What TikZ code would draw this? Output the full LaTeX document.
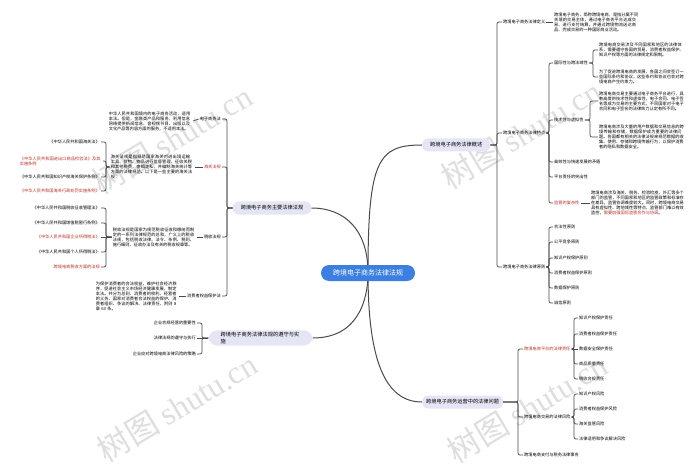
\documentclass[tikz,border=0pt]{standalone}
\usepackage{fontspec}
\setmainfont{Noto Sans CJK SC}
\newfontfamily\wmlat{Liberation Serif}
\XeTeXlinebreaklocale "zh"
\XeTeXlinebreakskip = 0pt plus 0.5pt
\usetikzlibrary{backgrounds}
\definecolor{lineC}{HTML}{4A4A4A}
\definecolor{redT}{HTML}{B7322C}
\definecolor{lvC}{HTML}{E4E6F5}
\definecolor{rootC}{HTML}{3C7FE0}
\definecolor{wmC}{HTML}{DEDEDE}
\tikzset{
 rootbox/.style={fill=rootC, text=white, rounded corners=8pt, minimum width=94pt, minimum height=16pt, font=\fontsize{7}{8}\selectfont, inner sep=1pt},
 lvone/.style={fill=lvC, rounded corners=6pt, minimum height=13pt, inner xsep=8pt, inner ysep=2pt, font=\fontsize{5.2}{6.5}\selectfont},
 lbl/.style={inner sep=1pt, font=\fontsize{4.2}{5}\selectfont},
 lblr/.style={lbl, text=redT},
 txt/.style={inner sep=1pt, font=\fontsize{4.2}{5}\selectfont, text width=#1, align=left},
 mainline/.style={draw=lineC, line width=1pt},
 brline/.style={draw=lineC, line width=0.7pt, rounded corners=2pt},
 wmark/.style={text=wmC, font=\fontsize{32}{32}\selectfont, inner sep=0pt, rotate=31},
}
\begin{document}
\begin{tikzpicture}[x=1pt, y=-1pt]
\useasboundingbox (0,0) rectangle (700,470);

% ---------- root and level one ----------
\node[rootbox] (root) at (368,273) {跨境电子商务法律法规};
\node[lvone, anchor=west] (ov) at (422,145) {跨境电子商务法律概述};
\node[lvone] (laws) at (272,208) {跨境电子商务主要法律法规};
\node[lvone, text width=80pt, align=left, inner xsep=12pt, rounded corners=9pt] (comp) at (260.5,338) {跨境电子商务法律法规的遵守与实施};
\node[lvone, anchor=west, inner xsep=4pt] (ops) at (422,402) {跨境电子商务运营中的法律问题};

% ---------- overview branch ----------
\node[lbl, anchor=west] (def) at (502,22) {跨境电子商务法律定义};
\node[lbl, anchor=west] (feat) at (502,133) {跨境电子商务法律特点};
\node[lbl, anchor=west] (prin) at (502,267) {跨境电子商务法律原则};
\node[txt=84pt, anchor=west] (t0) at (553,22) {跨境电子商务，简称跨境电商，是指分属不同关境的交易主体，通过电子商务平台达成交易、进行支付结算，并通过跨境物流送达商品、完成交易的一种国际商业活动。};

\node[lbl, anchor=west] (intl) at (553,63) {国际性与跨法域性};
\node[lbl, anchor=west] (tech) at (553,120) {技术性与虚拟性};
\node[lbl, anchor=west] (eff) at (553,162) {高效性与快速发展的矛盾};
\node[lbl, anchor=west] (platf) at (553,177) {平台责任的突出性};
\node[lblr, anchor=west] (supv) at (553,203) {监管的复杂性};

\node[txt=85pt, anchor=west] (t1) at (598,50) {跨境电商交易涉及不同国家和地区的法律体系，需要遵守各国的贸易、消费者权益保护、知识产权等方面的法律规定和限制。};
\node[txt=85pt, anchor=west] (t2) at (598,77) {为了促进跨境电商的发展，各国之间会签订一些国际条约和协议，这些条约和协议也会对跨境电商产生约束力。};
\node[txt=85pt, anchor=west] (t3) at (598,101) {跨境电商交易主要通过电子商务平台进行，具有高度的技术性和虚拟性，电子合同、电子签名等成为交易的主要方式，不同国家对于电子合同和电子签名的法律效力认定有所不同。};
\node[txt=85pt, anchor=west] (t4) at (598,137) {跨境电商涉及大量的用户数据和交易信息的跨境传输和存储，数据保护成为重要的法律问题。各国都有相关的法律法规来规范数据的收集、使用、存储和跨境传输行为，以保护消费者的隐私和数据安全。};
\node[txt=93pt, anchor=west] (t5) at (590,203) {跨境电商涉及海关、税务、检验检疫、外汇等多个部门的监管，不同国家和地区的监管政策和标准存在差异，监管协调难度较大。同时，跨境电商交易具有虚拟性、跨地域性等特点，监管部门难以有效监控，\textcolor{redT}{需要加强国际监管合作与协调}。};

\node[lbl, anchor=west] (p1) at (553,227) {合法性原则};
\node[lbl, anchor=west] (p2) at (553,242) {公平竞争原则};
\node[lbl, anchor=west] (p3) at (553,258) {知识产权保护原则};
\node[lbl, anchor=west] (p4) at (553,273) {消费者权益保护原则};
\node[lbl, anchor=west] (p5) at (553,288) {数据保护原则};
\node[lbl, anchor=west] (p6) at (553,303) {诚信原则};

% ---------- operations branch ----------
\node[lblr, anchor=west] (pr) at (523,349) {跨境电商平台的法律责任};
\node[lbl, anchor=west] (rk) at (523,417) {跨境电商交易的法律风险};
\node[lbl, anchor=west] (tx) at (523,455) {跨境电商支付与税务法律事务};
\node[lbl, anchor=west] (r1) at (578,318) {知识产权保护责任};
\node[lbl, anchor=west] (r2) at (578,334) {消费者权益保护责任};
\node[lbl, anchor=west] (r3) at (578,349) {数据安全保护责任};
\node[lbl, anchor=west] (r4) at (578,364) {商品质量责任};
\node[lbl, anchor=west] (r5) at (578,379) {税收合规责任};
\node[lbl, anchor=west] (k1) at (578,394) {知识产权风险};
\node[lbl, anchor=west] (k2) at (578,409) {消费者权益保护风险};
\node[lbl, anchor=west] (k3) at (578,424) {海关监管风险};
\node[lbl, anchor=west] (k4) at (578,439) {法律适用和争议解决风险};

% ---------- main laws branch ----------
\node[lbl, anchor=east] (ec) at (222,119) {电子商务法};
\node[lblr, anchor=east] (cu) at (222,167) {海关法规};
\node[lbl, anchor=east] (ta) at (222,237) {税收法规};
\node[lbl, anchor=east] (cp) at (222,296) {消费者权益保护法};

\node[txt=83pt, anchor=east] (ect) at (193,121) {中华人民共和国境内的电子商务活动，适用本法。但是，金融类产品和服务，利用信息网络提供新闻信息、音视频节目、出版以及文化产品等内容方面的服务，不适用本法。};
\node[txt=83pt, anchor=east] (cut) at (195,167) {海关法规是指规范国家海关对进出境运输工具、货物、物品进行监督管理，征收关税和其他税费，查缉走私，并编制海关统计等方面的法律规范。以下是一些主要的海关法规：};
\node[txt=83pt, anchor=east] (tat) at (197,237) {税收法规是国家为规范税收征收和缴纳而制定的一系列法律规范的总和，广义上的税收法规，包括税收法律、法令、条例、税则、施行细则、征收办法及有关的税收规章等。};
\node[txt=82pt, anchor=east] (cpt) at (179,296) {为保护消费者的合法权益，维护社会经济秩序，促进社会主义市场经济健康发展，制定本法。共分为总则、消费者的权利、经营者的义务、国家对消费者合法权益的保护、消费者组织、争议的解决、法律责任、附则 8 章 63 条。};

\node[lbl, anchor=east] (c1) at (101,142) {《中华人民共和国海关法》};
\node[txt=82pt, text=redT, anchor=east] (c2) at (103,161) {《中华人民共和国进出口商品检验法》及其实施条例};
\node[lbl, anchor=east] (c3) at (101,177) {《中华人民共和国知识产权海关保护条例》};
\node[lblr, anchor=east] (c4) at (101,191) {《中华人民共和国海关行政处罚实施条例》};

\node[lbl, anchor=east] (d1) at (101,208) {《中华人民共和国税收征收管理法》};
\node[lbl, anchor=east] (d2) at (101,223) {《中华人民共和国增值税暂行条例》};
\node[lblr, anchor=east] (d3) at (101,237) {《中华人民共和国企业所得税法》};
\node[lbl, anchor=east] (d4) at (101,252) {《中华人民共和国个人所得税法》};
\node[lblr, anchor=east] (d5) at (101,267) {跨境电商税收方面的法规};

% ---------- compliance branch ----------
\node[lbl, anchor=east] (e1) at (197,323) {企业合规经营的重要性};
\node[lbl, anchor=east] (e2) at (197,338) {法律法规的遵守与执行};
\node[lbl, anchor=east] (e3) at (197,354) {企业应对跨境电商法律风险的策略};

% ---------- connectors ----------
\begin{scope}[on background layer]
\fill[white] (0,0) rectangle (700,470);
\node[wmark] at (172,139) {树图 {\wmlat shutu.cn}};
\node[wmark] at (521,134) {树图 {\wmlat shutu.cn}};
\node[wmark] at (177,407) {树图 {\wmlat shutu.cn}};
\node[wmark] at (527,408) {树图 {\wmlat shutu.cn}};

\draw[mainline] (root.center) .. controls (368,160) and (378,145) .. (ov.west);
\draw[mainline] (root.center) .. controls (368,230) and (345,208) .. (laws.east);
\draw[mainline] (root.center) .. controls (368,300) and (358,338) .. (comp.east);
\draw[mainline] (root.center) .. controls (368,360) and (385,402) .. (ops.west);
\end{scope}

\foreach \c in {def,feat,prin} \draw[brline] (ov.east) -- (497,145) |- (\c.west);
\draw[brline] (def.east) -- (t0.west);
\foreach \c in {intl,tech,eff,platf,supv} \draw[brline] (feat.east) -- (549,133) |- (\c.west);
\foreach \c in {t1,t2} \draw[brline] (intl.east) -- (593,63) |- (\c.west);
\foreach \c in {t3,t4} \draw[brline] (tech.east) -- (590,120) |- (\c.west);
\draw[brline] (supv.east) -- (t5.west);
\foreach \c in {p1,p2,p3,p4,p5,p6} \draw[brline] (prin.east) -- (549,267) |- (\c.west);

\foreach \c in {pr,rk,tx} \draw[brline] (ops.east) -- (518,402) |- (\c.west);
\foreach \c in {r1,r2,r4,r5} \draw[brline] (pr.east) -- (574,349) |- (\c.west);
\draw[brline] (pr.east) -- (r3.west);
\foreach \c in {k1,k2,k3,k4} \draw[brline] (rk.east) -- (574,417) |- (\c.west);

\foreach \c in {ec,cu,ta,cp} \draw[brline] (laws.west) -- (227,208) |- (\c.east);
\draw[brline] (ec.west) -- (ect.east);
\draw[brline] (cu.west) -- (cut.east);
\draw[brline] (ta.west) -- (tat.east);
\draw[brline] (cp.west) -- (cpt.east);
\foreach \c in {c1,c2,c3,c4} \draw[brline] (cut.west) -- (106,167) |- (\c.east);
\foreach \c in {d1,d2,d4,d5} \draw[brline] (tat.west) -- (106,237) |- (\c.east);
\draw[brline] (tat.west) -- (d3.east);

\foreach \c in {e1,e3} \draw[brline] (comp.west) -- (202,338) |- (\c.east);
\draw[brline] (comp.west) -- (e2.east);
\end{tikzpicture}
\end{document}
